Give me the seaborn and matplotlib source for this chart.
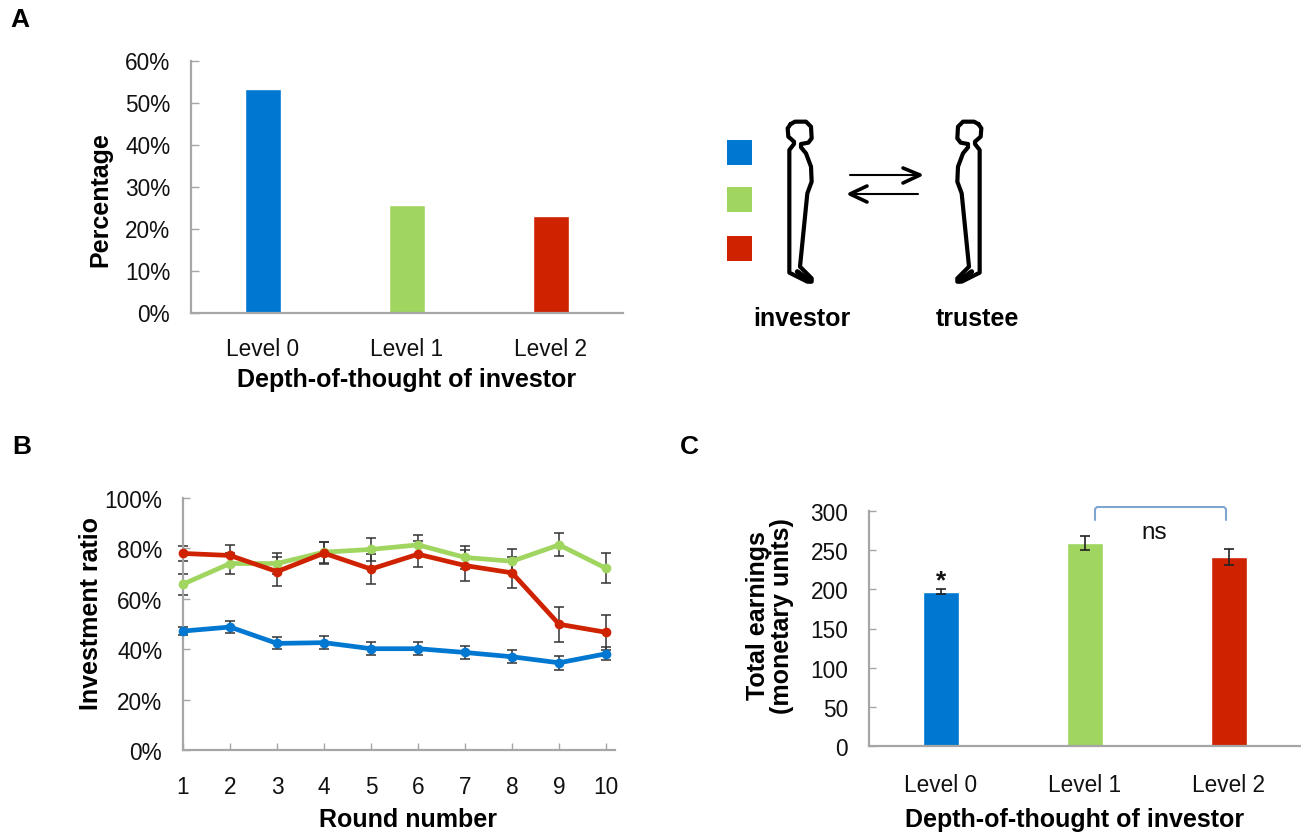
import seaborn as sns
import matplotlib.pyplot as plt
import pandas as pd
from matplotlib.patches import Rectangle
from matplotlib.transforms import ScaledTranslation

W, H = 1301, 833

levels = ["Level 0", "Level 1", "Level 2"]
colors = ["#0078d2", "#a0d55f", "#cf2200"]

# panel A
share = [53.3, 25.7, 23.0]

# panel B
rounds = [1, 2, 3, 4, 5, 6, 7, 8, 9, 10]
blue = [47.2, 48.8, 42.3, 42.6, 40.2, 40.2, 38.7, 37.0, 34.6, 38.2]
blue_err = [1.7, 2.4, 2.4, 2.6, 2.6, 2.6, 2.5, 2.6, 2.7, 2.6]
green = [65.8, 74.0, 74.0, 78.5, 79.6, 81.4, 76.4, 74.9, 81.4, 72.1]
green_err = [4.2, 4.0, 4.2, 4.2, 4.5, 4.1, 4.6, 4.8, 4.6, 5.9]
red = [78.0, 77.2, 70.8, 78.1, 71.8, 77.7, 73.2, 70.3, 49.9, 46.7]
red_err = [3.0, 4.1, 5.7, 4.3, 6.0, 5.2, 6.0, 6.2, 7.0, 6.9]

# panel C
earnings = [197, 259, 241]
earnings_err = [3.2, 8.7, 10.4]

sns.set_theme(style="white")
plt.rcParams['font.family'] = ['Liberation Sans', 'DejaVu Sans']
plt.rcParams['text.color'] = '#111111'
plt.rcParams['axes.labelcolor'] = 'black'
AXIS = '#a6a6a6'
TICK_SIZE = 16.3
LABEL_SIZE = 18


def make_axes(left, right, top, bottom):
    return fig.add_axes([left / W, 1 - bottom / H, (right - left) / W, (bottom - top) / H])


def style(ax):
    sns.despine(ax=ax)
    for side in ['left', 'bottom']:
        ax.spines[side].set_color(AXIS)
        ax.spines[side].set_linewidth(1.6)
    ax.tick_params(axis='both', direction='in', length=5, width=1.0, color=AXIS,
                   labelsize=TICK_SIZE, labelcolor='#111111', left=True, bottom=True)


def place_labels(ax, box, xpos, ypos):
    # label centres given in figure pixels
    left, right, top, bottom = box
    ax.xaxis.set_label_coords((xpos[0] - left) / (right - left), (bottom - xpos[1]) / (bottom - top))
    ax.yaxis.set_label_coords((ypos[0] - left) / (right - left), (bottom - ypos[1]) / (bottom - top))
    ax.xaxis.label.set_verticalalignment('center')
    ax.yaxis.label.set_verticalalignment('center')


def shift_ylabels(ax, px):
    offset = ScaledTranslation(0, -px / 100, fig.dpi_scale_trans)
    for lab in ax.get_yticklabels():
        lab.set_transform(lab.get_transform() + offset)


fig = plt.figure(figsize=(W / 100, H / 100), dpi=100)

# A
box = (191, 623, 61, 313)
ax = make_axes(*box)
df_a = pd.DataFrame({"level": levels, "share": share})
sns.barplot(data=df_a, x="level", y="share", hue="level", palette=colors, width=0.25,
            saturation=1, legend=False, ax=ax)
ax.set_ylim(0, 60)
ax.set_yticks([0, 10, 20, 30, 40, 50, 60])
ax.set_yticklabels(["0%", "10%", "20%", "30%", "40%", "50%", "60%"])
style(ax)
ax.tick_params(axis='x', length=0, pad=18)
ax.tick_params(axis='y', length=6, pad=15)
ax.set_xlabel("Depth-of-thought of investor", fontsize=LABEL_SIZE, fontweight='bold')
ax.set_ylabel("Percentage", fontsize=LABEL_SIZE, fontweight='bold')
place_labels(ax, box, (407, 380), (100, 200))
shift_ylabels(ax, 0.5)

# B
box = (183, 615, 498, 750)
ax = make_axes(*box)
df_b = pd.DataFrame({
    "round": rounds * 3,
    "ratio": blue + green + red,
    "level": [levels[0]] * 10 + [levels[1]] * 10 + [levels[2]] * 10,
})
for vals, errs in [(blue, blue_err), (green, green_err), (red, red_err)]:
    ax.errorbar(rounds, vals, yerr=errs, fmt='none', ecolor='#333333', elinewidth=1.1,
                capsize=3.6, capthick=1.1, clip_on=False, zorder=2)
sns.lineplot(data=df_b, x="round", y="ratio", hue="level", palette=colors, linewidth=3.4,
             marker='o', markersize=7, markeredgewidth=0, errorbar=None, legend=False,
             ax=ax, zorder=3, clip_on=False)
ax.set_xlim(1, 10.19)
ax.set_ylim(0, 100)
ax.set_xticks(rounds)
ax.set_yticks([0, 20, 40, 60, 80, 100])
ax.set_yticklabels(["0%", "20%", "40%", "60%", "80%", "100%"])
style(ax)
ax.tick_params(axis='x', pad=19)
ax.tick_params(axis='y', pad=15)
ax.set_xlabel("Round number", fontsize=LABEL_SIZE, fontweight='bold')
ax.set_ylabel("Investment ratio", fontsize=LABEL_SIZE, fontweight='bold')
place_labels(ax, box, (408, 820), (91, 613))
shift_ylabels(ax, 1)

# C
box = (869, 1301, 511, 746)
ax = make_axes(*box)
df_c = pd.DataFrame({"level": levels, "earnings": earnings})
sns.barplot(data=df_c, x="level", y="earnings", hue="level", palette=colors, width=0.25,
            saturation=1, legend=False, ax=ax)
ax.errorbar(levels, earnings, yerr=earnings_err, fmt='none', ecolor='#222222', elinewidth=1.2,
            capsize=3.6, capthick=1.2)
ax.set_xlim(-0.5, 2.5)
ax.set_ylim(0, 300)
ax.set_yticks([0, 50, 100, 150, 200, 250, 300])
style(ax)
ax.tick_params(axis='x', length=0, pad=20)
ax.tick_params(axis='y', pad=15)
ax.set_xlabel("Depth-of-thought of investor", fontsize=LABEL_SIZE, fontweight='bold')
ax.set_ylabel("Total earnings\n(monetary units)", fontsize=LABEL_SIZE, fontweight='bold',
              linespacing=1.05)
place_labels(ax, box, (1075, 820), (770, 616))
shift_ylabels(ax, 1)

# overlay in pixel coordinates for panel letters, schematic and annotations
ov = fig.add_axes([0, 0, 1, 1], facecolor='none')
ov.set_xlim(0, W)
ov.set_ylim(H, 0)
ov.axis('off')

for s, x, y in [("A", 10, 20), ("B", 12, 447), ("C", 680, 447)]:
    ov.text(x, y, s, fontsize=19, fontweight='bold', ha='left', va='center', color='black')

# colour keys
for c, y in zip(colors, [140, 187, 236]):
    ov.add_patch(Rectangle((727, y), 25, 25, facecolor=c, edgecolor='none'))

# silhouette outline, traced at 3x scale
body_x = [272, 285, 318, 333, 335, 325, 303, 303, 318, 333, 335, 322, 300, 335, 335, 322, 268, 268, 282, 282, 265, 263, 272]
body_y = [72, 65, 65, 80, 115, 128, 132, 142, 160, 200, 245, 280, 500, 535, 545, 545, 518, 150, 132, 125, 110, 85, 72]
foot_x = [292, 330]
foot_y = [515, 543]

for mirror in [False, True]:
    xs = [700 + ((1107 - x) if mirror else x) / 3 for x in body_x]
    fx = [700 + ((1107 - x) if mirror else x) / 3 for x in foot_x]
    ys = [100 + y / 3 for y in body_y]
    fy = [100 + y / 3 for y in foot_y]
    ov.plot(xs, ys, color='black', lw=3.0, solid_joinstyle='round')
    ov.plot(fx, fy, color='black', lw=3.6, solid_capstyle='round')

# arrows between the two figures
ov.plot([850, 920], [175, 175], color='black', lw=1.5)
ov.plot([903, 920, 903], [168, 175, 183], color='black', lw=2.6)
ov.plot([918, 850], [194, 194], color='black', lw=1.5)
ov.plot([867, 850, 867], [186, 194, 202], color='black', lw=2.6)

ov.text(802, 319, "investor", fontsize=LABEL_SIZE, fontweight='bold', ha='center', va='center', color='black')
ov.text(977, 319, "trustee", fontsize=LABEL_SIZE, fontweight='bold', ha='center', va='center', color='black')

# ns bracket and star
ov.plot([1095, 1095, 1097, 1224, 1226, 1226], [520, 509, 507, 507, 509, 520], color='#7ea6d0', lw=1.5)
ov.text(1154, 533, "ns", fontsize=17.5, ha='center', va='center')
ov.text(941, 581, "*", fontsize=19, fontweight='bold', ha='center', va='center')

fig.savefig("out.png", dpi=100)
